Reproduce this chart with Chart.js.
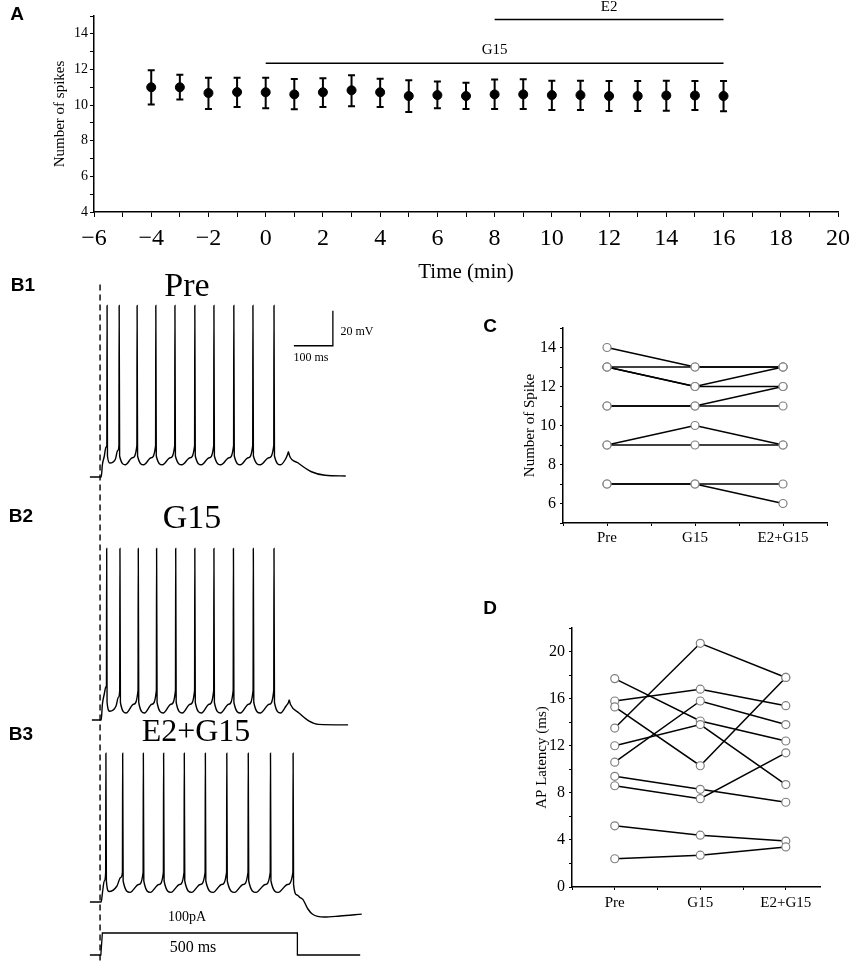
<!DOCTYPE html>
<html>
<head>
<meta charset="utf-8">
<script src="https://cdn.jsdelivr.net/npm/chart.js@4.4.1/dist/chart.umd.min.js"></script>
<style>
  body { margin: 0; background: #fff; }
  #page { position: relative; width: 857px; height: 964px; overflow: hidden; background: #fff; }
  canvas { position: absolute; }
  .lbl { position: absolute; transform: translate(-50%, -50%); white-space: nowrap; line-height: 1; color: #000; }
  .panel { font-family: "Liberation Sans", Arial, sans-serif; font-weight: bold; font-size: 19px; }
  .serif { font-family: "Liberation Serif", "Times New Roman", serif; }
</style>
</head>
<body>
<div id="page">
  <canvas id="chartA" style="left:0px;top:0px" width="857" height="290"></canvas>
  <canvas id="chartB" style="left:0px;top:270px" width="480" height="694"></canvas>
  <canvas id="chartC" style="left:480px;top:300px" width="377" height="260"></canvas>
  <canvas id="chartD" style="left:480px;top:590px" width="377" height="330"></canvas>

  <div class="lbl panel" style="left:17px;top:13px">A</div>
  <div class="lbl panel" style="left:23px;top:284px">B1</div>
  <div class="lbl panel" style="left:21px;top:515px">B2</div>
  <div class="lbl panel" style="left:21px;top:733px">B3</div>
  <div class="lbl panel" style="left:490px;top:325px">C</div>
  <div class="lbl panel" style="left:490px;top:607px">D</div>

  <div class="lbl serif" style="left:187px;top:285px;font-size:34px">Pre</div>
  <div class="lbl serif" style="left:192px;top:517px;font-size:34px">G15</div>
  <div class="lbl serif" style="left:196px;top:730px;font-size:32px">E2+G15</div>
  <div class="lbl serif" style="left:357px;top:331px;font-size:12px">20 mV</div>
  <div class="lbl serif" style="left:311px;top:357px;font-size:12px">100 ms</div>
  <div class="lbl serif" style="left:187px;top:917px;font-size:14px">100pA</div>
  <div class="lbl serif" style="left:193px;top:947px;font-size:16px">500 ms</div>
</div>

<script>
// ---- Panel A: spike count over time ----
const timeMin = [-4, -3, -2, -1, 0, 1, 2, 3, 4, 5, 6, 7, 8, 9, 10, 11, 12, 13, 14, 15, 16];
const spikeMean = [11.0, 11.0, 10.68, 10.73, 10.72, 10.6, 10.72, 10.83, 10.72, 10.51, 10.56,
                   10.51, 10.6, 10.6, 10.56, 10.56, 10.51, 10.51, 10.54, 10.54, 10.51];
const spikeHi = [11.95, 11.7, 11.54, 11.54, 11.54, 11.46, 11.5, 11.67, 11.48, 11.39, 11.33,
                 11.26, 11.43, 11.45, 11.37, 11.37, 11.35, 11.35, 11.37, 11.35, 11.35];
const spikeLo = [10.03, 10.32, 9.78, 9.89, 9.82, 9.76, 9.89, 9.93, 9.89, 9.61, 9.82,
                 9.78, 9.78, 9.78, 9.72, 9.72, 9.67, 9.67, 9.68, 9.72, 9.65];
const drugNames = ['G15', 'E2'];
const drugStart = [0, 8];
const drugEnd = [16, 16];
const drugLevel = [12.35, 14.8];

// ---- Panel B: example traces (time in ms, membrane potential in mV) ----
const traceB1 = [
  [-31,-70],[-2,-70],[1,-63],[6,-58],[10,-53],[12.4,-52],[13,28],[14,-58],[20,-62],[34,-60],[40,-55],[43.4,-52],
  [44,28],[45.2,-58],[60,-63],[78,-59],[89.4,-52],
  [90,28],[91.2,-58],[107,-63],[126,-59],[137.4,-52],
  [138,28],[139.2,-58],[155,-63],[175,-59],[186.4,-52],
  [187,28],[188.2,-58],[205,-63],[226,-59],[237.4,-52],
  [238,28],[239.2,-58],[255,-63],[275,-59],[286.4,-52],
  [287,28],[288.2,-58],[305,-63],[326,-59],[337.4,-52],
  [338,28],[339.2,-58],[355,-63],[375,-59],[386.4,-52],
  [387,28],[388.2,-58],[406,-63],[428,-59],[440.4,-52],
  [441,28],[442.2,-58],[458,-63],[470,-60],[476,-57],[478,-55.5],[481,-58],[503,-62],[537,-67],[572,-69],[625,-69.4]
];
const traceB2 = [
  [-26,-70],[-2,-70],[1,-61],[6,-55],[10,-51],[11.4,-51],[12,28],[13,-60],[20,-65],[36,-62],[42,-57],[45.4,-53],
  [46,28],[47.2,-60],[62,-66],[81,-61],[92.4,-53],
  [93,28],[94.2,-60],[109,-66],[128,-61],[139.4,-53],
  [140,28],[141.2,-60],[157,-66],[177,-61],[188.4,-53],
  [189,28],[190.2,-60],[206,-66],[226,-61],[237.4,-53],
  [238,28],[239.2,-60],[255,-66],[275,-61],[286.4,-53],
  [287,28],[288.2,-60],[304,-66],[325,-61],[336.4,-53],
  [337,28],[338.2,-60],[355,-66],[376,-61],[387.4,-53],
  [388,28],[389.2,-60],[406,-66],[429,-61],[440.4,-53],
  [441,28],[442.2,-60],[458,-66],[472,-62],[478,-60],[480,-58.6],[483,-61],[505,-66],[530,-70.5],[555,-72.5],[631,-72.8]
];
const traceB3 = [
  [-31,-70],[-2,-70],[1,-65],[6,-58],[9.4,-53],[10,15],[11.2,-58],[18,-64],[38,-61],[48,-56],[52.4,-53],
  [53,15],[54.2,-58],[72,-64.5],[94,-60],[105.4,-53],
  [106,15],[107.2,-58],[124,-64.5],[146,-60],[157.4,-53],
  [158,15],[159.2,-58],[177,-64.5],[199,-60],[210.4,-53],
  [211,15],[212.2,-58],[230,-64.5],[252,-60],[264.4,-53],
  [265,15],[266.2,-58],[285,-64.5],[307,-60],[319.4,-53],
  [320,15],[321.2,-58],[340,-64.5],[362,-60],[374.4,-53],
  [375,15],[376.2,-58],[395,-64.5],[419,-60],[431.4,-53],
  [432,15],[433.2,-58],[452,-64.5],[476,-60],[489.4,-53],
  [490,15],[491.2,-60],[500,-66],[508,-67.5],[515,-68.5],[528,-74],[540,-77],[570,-78.6],[610,-78],[666,-76.9]
];
const stimPa = [[-31,0],[-3,0],[1,100],[501,100],[501,0],[662,0]];
const markerMs = -5;
const scaleBarMs = 100;
const scaleBarMv = 20;

// ---- Panels C and D: per-cell values ----
const condLabels = ['Pre', 'G15', 'E2+G15'];
const spikePre   = [14, 13, 13, 13, 11, 11, 9, 9, 7, 7];
const spikeG15   = [13, 13, 12, 12, 11, 11, 10, 9, 7, 7];
const spikeE2G15 = [13, 13, 13, 12, 12, 11, 9, 9, 7, 6];
const latPre   = [13.5, 17.7, 15.8, 15.3, 12.0, 10.6, 9.4, 8.6, 5.2, 2.4];
const latG15   = [20.7, 14.1, 16.8, 10.3, 13.8, 15.8, 8.3, 7.5, 4.4, 2.7];
const latE2G15 = [17.8, 12.4, 15.4, 17.8, 8.7, 13.8, 7.2, 11.4, 3.9, 3.4];

const SERIF = '"Liberation Serif", "Times New Roman", serif';
const minus = v => (v < 0 ? '\u2212' + Math.abs(v) : String(v));
const near = (v, step) => Math.abs(v / step - Math.round(v / step)) < 1e-6;

// error bars + drug application bars for panel A
const panelAExtras = {
  id: 'panelAExtras',
  beforeDatasetsDraw(chart) {
    const { ctx, scales: { x, y } } = chart;
    ctx.save();
    ctx.strokeStyle = '#000';
    ctx.lineWidth = 2;
    timeMin.forEach((t, i) => {
      const px = x.getPixelForValue(t);
      const top = y.getPixelForValue(spikeHi[i]);
      const bot = y.getPixelForValue(spikeLo[i]);
      ctx.beginPath();
      ctx.moveTo(px, top); ctx.lineTo(px, bot);
      ctx.moveTo(px - 3.5, top); ctx.lineTo(px + 3.5, top);
      ctx.moveTo(px - 3.5, bot); ctx.lineTo(px + 3.5, bot);
      ctx.stroke();
    });
    ctx.restore();
  },
  afterDraw(chart) {
    const { ctx, scales: { x, y } } = chart;
    ctx.save();
    ctx.strokeStyle = '#000';
    ctx.fillStyle = '#000';
    ctx.lineWidth = 1.5;
    ctx.font = '15px ' + SERIF;
    ctx.textAlign = 'center';
    ctx.textBaseline = 'middle';
    drugNames.forEach((name, i) => {
      const x0 = x.getPixelForValue(drugStart[i]);
      const x1 = x.getPixelForValue(drugEnd[i]);
      const py = y.getPixelForValue(drugLevel[i]);
      ctx.beginPath();
      ctx.moveTo(x0, py); ctx.lineTo(x1, py);
      ctx.stroke();
      ctx.fillText(name, (x0 + x1) / 2, py - 13);
    });
    ctx.restore();
  }
};

new Chart(document.getElementById('chartA'), {
  type: 'scatter',
  data: {
    datasets: [{
      data: timeMin.map((t, i) => ({ x: t, y: spikeMean[i] })),
      pointRadius: 4.5,
      backgroundColor: '#000',
      borderColor: '#000'
    }]
  },
  options: {
    responsive: false,
    animation: false,
    layout: { padding: { top: 16, right: 16, left: 0, bottom: 0 } },
    plugins: { legend: { display: false }, tooltip: { enabled: false } },
    scales: {
      x: {
        type: 'linear', min: -6, max: 20,
        afterFit: s => { s.height = 78; },
        border: { display: true, color: '#000', width: 1.5 },
        grid: { display: true, drawOnChartArea: false, drawTicks: true, tickLength: 5, color: '#000' },
        ticks: {
          stepSize: 1, autoSkip: false, maxRotation: 0, padding: 7, color: '#000',
          font: { family: SERIF, size: 24 },
          callback: v => (near(v, 2) ? minus(Math.round(v)) : '')
        },
        title: { display: true, text: 'Time (min)', color: '#000', font: { family: SERIF, size: 21 }, padding: { top: 0, bottom: 5 } }
      },
      y: {
        min: 4, max: 15,
        afterFit: s => { s.width = 94; },
        border: { display: true, color: '#000', width: 1.5 },
        grid: { display: true, drawOnChartArea: false, drawTicks: true, tickLength: 4, color: '#000' },
        ticks: {
          stepSize: 1, autoSkip: false, padding: 2, color: '#000',
          font: { family: SERIF, size: 14 },
          callback: v => (near(v, 2) && v < 15 ? String(Math.round(v)) : '')
        },
        title: { display: true, text: 'Number of spikes', color: '#000', font: { family: SERIF, size: 15 }, padding: { top: 51, bottom: 0 } }
      }
    }
  },
  plugins: [panelAExtras]
});

// ---- Panel B ----
const B_TOP = 270, B_W = 480, B_H = 694;
const ONSET_X = 102;       // page x where t = 0
const MS_PX = 0.39, MV_PX = 1.75, PA_PX = 0.22;
const REST = -70;
const restY = { b1: 477, b2: 720, b3: 902 };
const stimZeroY = 955;

function mvAxis(pageY) {
  const max = REST + (pageY - B_TOP) / MV_PX;
  return { display: false, min: max - B_H / MV_PX, max: max };
}
const xMinB = -ONSET_X / MS_PX;
const yB1 = mvAxis(restY.b1);
const toXY = arr => arr.map(([t, v]) => ({ x: t, y: v }));
const traceStyle = { borderColor: '#000', borderWidth: 1.4, pointRadius: 0, cubicInterpolationMode: 'monotone', fill: false };
const plainStyle = { borderColor: '#000', borderWidth: 1.3, pointRadius: 0, tension: 0, fill: false };

new Chart(document.getElementById('chartB'), {
  type: 'line',
  data: {
    datasets: [
      Object.assign({ data: toXY(traceB1), yAxisID: 'yB1' }, traceStyle),
      Object.assign({ data: toXY(traceB2), yAxisID: 'yB2' }, traceStyle),
      Object.assign({ data: toXY(traceB3), yAxisID: 'yB3' }, traceStyle),
      Object.assign({ data: toXY(stimPa), yAxisID: 'yI' }, plainStyle),
      Object.assign({
        data: [{ x: markerMs, y: 40 }, { x: markerMs, y: yB1.min + 1 }],
        yAxisID: 'yB1', borderDash: [6, 4]
      }, plainStyle, { borderWidth: 1.4 }),
      Object.assign({
        data: [{ x: 592 - scaleBarMs, y: 5 }, { x: 592, y: 5 }, { x: 592, y: 5 + scaleBarMv }],
        yAxisID: 'yB1'
      }, plainStyle)
    ]
  },
  options: {
    responsive: false,
    animation: false,
    layout: { padding: 0 },
    plugins: { legend: { display: false }, tooltip: { enabled: false } },
    scales: {
      x: { type: 'linear', display: false, min: xMinB, max: xMinB + B_W / MS_PX },
      yB1: yB1,
      yB2: mvAxis(restY.b2),
      yB3: mvAxis(restY.b3),
      yI: { display: false, max: (stimZeroY - B_TOP) / PA_PX, min: (stimZeroY - B_TOP - B_H) / PA_PX }
    }
  }
});

// ---- Panels C and D ----
function pairedChart(id, pre, g15, e2, opts) {
  const cells = pre.map((v, i) => [v, g15[i], e2[i]]);
  const lineSets = cells.map(c => ({
    data: c.map((v, j) => ({ x: j + 1, y: v })),
    showLine: true, borderColor: '#000', borderWidth: 1.5, pointRadius: 0, order: 1
  }));
  const pts = [];
  cells.forEach(c => c.forEach((v, j) => pts.push({ x: j + 1, y: v })));
  lineSets.push({
    data: pts, showLine: false, pointRadius: 4, pointBorderWidth: 1.2,
    pointBorderColor: '#808080', pointBackgroundColor: '#fff', order: 0
  });
  new Chart(document.getElementById(id), {
    type: 'scatter',
    data: { datasets: lineSets },
    options: {
      responsive: false,
      animation: false,
      layout: { padding: { top: opts.padTop, right: opts.padRight, left: 0, bottom: 0 } },
      plugins: { legend: { display: false }, tooltip: { enabled: false } },
      scales: {
        x: {
          type: 'linear', min: 0.5, max: opts.xMax,
          afterFit: s => { s.height = opts.xH; },
          afterBuildTicks: s => { s.ticks = s.ticks.filter(t => near(t.value, 0.5)); },
          border: { display: true, color: '#000', width: 1.5 },
          grid: { display: true, drawOnChartArea: false, drawTicks: true, tickLength: 3, color: '#000' },
          ticks: {
            stepSize: 0.5, autoSkip: false, includeBounds: false, maxRotation: 0, padding: opts.xPad, color: '#000',
            font: { family: SERIF, size: 15 },
            callback: v => (near(v, 1) ? (condLabels[Math.round(v) - 1] || '') : '')
          }
        },
        y: {
          min: opts.yMin, max: opts.yMax,
          afterFit: s => { s.width = opts.yW; },
          border: { display: true, color: '#000', width: 1.5 },
          grid: { display: true, drawOnChartArea: false, drawTicks: true, tickLength: 3, color: '#000' },
          ticks: {
            stepSize: opts.yStep, autoSkip: false, padding: 4, color: '#000',
            font: { family: SERIF, size: 16 },
            callback: opts.yLabel
          },
          title: { display: true, text: opts.title, color: '#000', font: { family: SERIF, size: 15 }, padding: { top: opts.titlePad, bottom: 0 } }
        }
      }
    }
  });
}

pairedChart('chartC', spikePre, spikeG15, spikeE2G15, {
  padTop: 28, padRight: 30, xMax: 3.5, xH: 37, xPad: 3, yW: 83,
  yMin: 5, yMax: 15, yStep: 1, titlePad: 41, title: 'Number of Spike',
  yLabel: v => (near(v, 2) && v >= 6 && v <= 14 ? String(Math.round(v)) : '')
});

pairedChart('chartD', latPre, latG15, latE2G15, {
  padTop: 38, padRight: 37, xMax: 3.4, xH: 33, xPad: 4, yW: 92,
  yMin: 0, yMax: 22, yStep: 2, titlePad: 53, title: 'AP Latency (ms)',
  yLabel: v => (near(v, 4) && v <= 20 ? String(Math.round(v)) : '')
});
</script>
</body>
</html>
